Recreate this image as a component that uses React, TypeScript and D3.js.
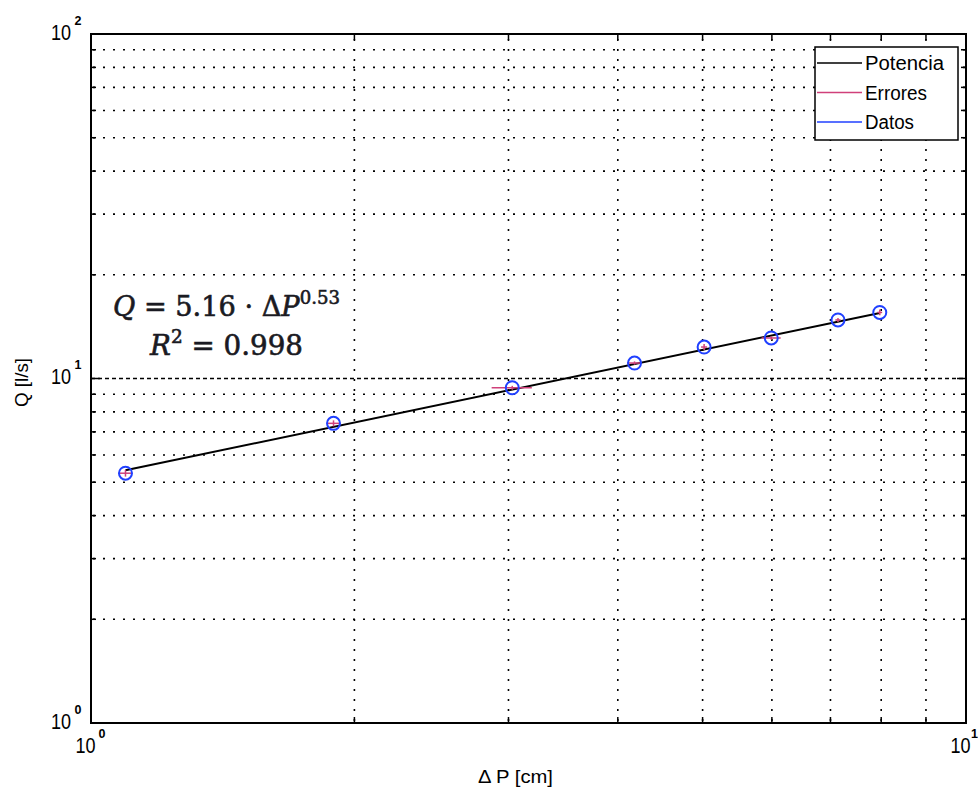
import React from "react";
import * as d3 from "d3";

// ---- data ----
const deltaP = [1.095, 1.893, 3.03, 4.18, 5.02, 5.99, 7.14, 7.97];
const flowQ = [5.31, 7.41, 9.4, 11.09, 12.34, 13.11, 14.79, 15.55];
const errP = [0.02, 0.03, 0.16, 0.08, 0.04, 0.15, 0.05, 0.05];
const errQ = [0.12, 0.15, 0.12, 0.12, 0.25, 0.15, 0.2, 0.3];
const fitCoef = 5.16;
const fitExp = 0.53;
const legendLabels = ["Potencia", "Errores", "Datos"];
const xMinorTicks = [2, 3, 4, 5, 6, 7, 8, 9];
const yMinorTicks = [2, 3, 4, 5, 6, 7, 8, 9, 20, 30, 40, 50, 60, 70, 80, 90];
const xMajorExp = [0, 1];
const yMajorExp = [0, 1, 2];

const W = 978;
const H = 789;
const L = 91, R = 966, T = 34, B = 723;

const x = d3.scaleLog().domain([1, 10]).range([L, R]);
const y = d3.scaleLog().domain([1, 100]).range([B, T]);

const colors = { fit: "#000000", err: "#d0407a", data: "#2040ff" };
const tickFont = "'Liberation Sans', Arial, sans-serif";

export default function App() {
  const fitLine = d3
    .line<number>()
    .x((d) => x(d))
    .y((d) => y(fitCoef * Math.pow(d, fitExp)));
  const fitPts = [deltaP[0], deltaP[deltaP.length - 1]];

  return (
    <svg width={W} height={H} style={{ position: "absolute", left: 0, top: 0, background: "#fff" }}>
      <rect x={0} y={0} width={W} height={H} fill="#fff" />
      {/* grid */}
      <g stroke="#000" strokeWidth={1.6} strokeDasharray="2 8" fill="none">
        {xMinorTicks.map((v) => (
          <line key={"gx" + v} x1={x(v)} x2={x(v)} y1={B - 2} y2={T} />
        ))}
        {yMinorTicks.map((v) => (
          <line key={"gy" + v} x1={L + 2} x2={R} y1={y(v)} y2={y(v)} />
        ))}
      </g>
      <line x1={L} x2={R} y1={y(10)} y2={y(10)} stroke="#000" strokeWidth={1.6} strokeDasharray="4 3" />
      {/* ticks */}
      <g stroke="#000" strokeWidth={1.5}>
        {xMinorTicks.map((v) => (
          <g key={"tx" + v}>
            <line x1={x(v)} x2={x(v)} y1={B} y2={B - 6} />
            <line x1={x(v)} x2={x(v)} y1={T} y2={T + 6} />
          </g>
        ))}
        {yMinorTicks.map((v) => (
          <g key={"ty" + v}>
            <line x1={L} x2={L + 5} y1={y(v)} y2={y(v)} />
            <line x1={R} x2={R - 5} y1={y(v)} y2={y(v)} />
          </g>
        ))}
        {yMajorExp.map((e) => (
          <g key={"tY" + e}>
            <line x1={L} x2={L + 9} y1={y(Math.pow(10, e))} y2={y(Math.pow(10, e))} />
            <line x1={R} x2={R - 9} y1={y(Math.pow(10, e))} y2={y(Math.pow(10, e))} />
          </g>
        ))}
      </g>
      {/* frame */}
      <rect x={L} y={T} width={R - L} height={B - T} fill="none" stroke="#000" strokeWidth={2} />

      {/* fit line */}
      <path d={fitLine(fitPts) || ""} fill="none" stroke={colors.fit} strokeWidth={2} />
      {/* error bars */}
      <g stroke={colors.err} strokeWidth={1.5}>
        {deltaP.map((p, i) => (
          <g key={"e" + i}>
            <line x1={x(p - errP[i])} x2={x(p + errP[i])} y1={y(flowQ[i])} y2={y(flowQ[i])} />
            <line x1={x(p)} x2={x(p)} y1={y(flowQ[i] - errQ[i])} y2={y(flowQ[i] + errQ[i])} />
          </g>
        ))}
      </g>
      {/* data circles */}
      <g stroke={colors.data} strokeWidth={2} fill="none">
        {deltaP.map((p, i) => (
          <circle key={"c" + i} cx={x(p)} cy={y(flowQ[i])} r={6.5} />
        ))}
      </g>

      {/* tick labels */}
      <g fill="#000" fontFamily={tickFont}>
        {yMajorExp.map((e) => {
          const ty = y(Math.pow(10, e));
          return (
            <g key={"ly" + e}>
              <text transform={`translate(51,${ty + 5.5}) scale(0.82,1)`} fontSize={22}>10</text>
              <text x={74.5} y={ty - 9.5} fontSize={12.5} fontWeight="bold">{e}</text>
            </g>
          );
        })}
        {xMajorExp.map((e) => {
          const tx = x(Math.pow(10, e));
          return (
            <g key={"lx" + e}>
              <text transform={`translate(${tx - 15.5},753) scale(0.82,1)`} fontSize={22}>10</text>
              <text x={Math.min(tx + 7.5, 971)} y={738} fontSize={12.5} fontWeight="bold">{e}</text>
            </g>
          );
        })}
      </g>

      {/* axis labels */}
      <text x={478} y={783} fontFamily={tickFont} fontSize={18} textLength={75} lengthAdjust="spacingAndGlyphs">Δ P [cm]</text>
      <text transform="translate(28,407) rotate(-90)" x={0} y={0} fontFamily={tickFont} fontSize={18} textLength={49} lengthAdjust="spacingAndGlyphs">Q [l/s]</text>

      {/* equation */}
      <g fill="#1a1a22" stroke="#1a1a22" strokeWidth={0.6} fontFamily="'DejaVu Serif', 'Liberation Serif', serif">
        <text x={113} y={316} fontSize={27} textLength={227} lengthAdjust="spacingAndGlyphs">
          <tspan fontStyle="italic">Q</tspan>
          <tspan> = 5.16 · Δ</tspan>
          <tspan fontStyle="italic">P</tspan>
          <tspan fontSize={18} dy={-12}>0.53</tspan>
        </text>
        <text x={150} y={355} fontSize={27} textLength={153} lengthAdjust="spacingAndGlyphs">
          <tspan fontStyle="italic">R</tspan>
          <tspan fontSize={18} dy={-12}>2</tspan>
          <tspan dy={12}> = 0.998</tspan>
        </text>
      </g>

      {/* legend */}
      <rect x={815} y={47} width={143} height={93} fill="#fff" stroke="#000" strokeWidth={1.5} />
      {legendLabels.map((lab, i) => {
        const ly = 63 + i * 29.5;
        const col = [colors.fit, colors.err, colors.data][i];
        const widths = [79, 62, 49];
        return (
          <g key={lab}>
            <line x1={817} x2={862} y1={ly} y2={ly} stroke={col} strokeWidth={1.5} />
            <text x={865} y={ly + 7} fontFamily={tickFont} fontSize={20} textLength={widths[i]} lengthAdjust="spacingAndGlyphs">{lab}</text>
          </g>
        );
      })}
    </svg>
  );
}
